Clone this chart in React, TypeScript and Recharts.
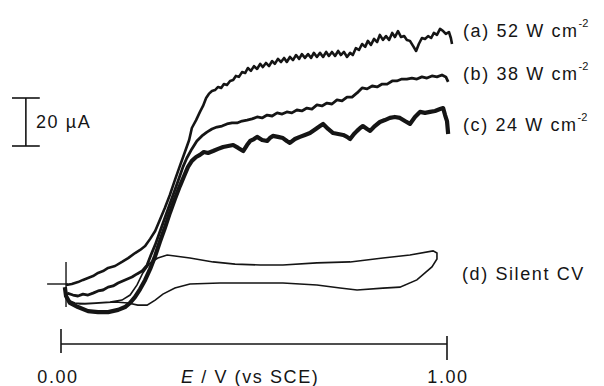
import { LineChart, Line, XAxis, YAxis, ReferenceLine, Customized } from "recharts";

// potential E / V vs SCE, current I / µA
const curveA: [number, number][] = [
  [0.013, -0.4], [0.028, 0], [0.044, 0.8], [0.057, 1.7], [0.07, 2.5], [0.083, 3.3], [0.096, 4.6],
  [0.109, 5.4], [0.122, 6.7], [0.14, 7.5], [0.158, 9.2], [0.174, 10.8], [0.192, 12.9], [0.205, 14.2],
  [0.218, 15.8], [0.231, 18.8], [0.244, 22.1], [0.256, 26.7], [0.269, 31.7], [0.282, 37.1],
  [0.295, 43.3], [0.308, 49.2], [0.321, 55.0], [0.332, 60.0], [0.339, 65.0], [0.35, 68.3],
  [0.36, 71.7], [0.368, 74.2], [0.376, 77.5], [0.383, 79.2], [0.391, 80.4], [0.399, 80.8],
  [0.407, 82.1], [0.415, 81.7], [0.422, 83.3], [0.43, 82.9], [0.438, 84.6], [0.446, 85.0],
  [0.453, 86.7], [0.461, 86.3], [0.469, 88.3], [0.477, 87.9], [0.484, 90.0], [0.492, 88.8],
  [0.5, 90.8], [0.508, 89.6], [0.516, 91.7], [0.523, 90.4], [0.531, 92.1], [0.539, 90.8],
  [0.547, 92.9], [0.554, 91.7], [0.562, 93.8], [0.57, 92.5], [0.578, 94.2], [0.585, 92.5],
  [0.593, 94.6], [0.601, 93.3], [0.609, 95.4], [0.617, 93.8], [0.624, 95.8], [0.632, 94.2],
  [0.64, 95.8], [0.648, 94.2], [0.655, 96.3], [0.663, 94.6], [0.671, 96.3], [0.679, 94.6],
  [0.687, 96.7], [0.694, 95.0], [0.702, 96.7], [0.71, 95.0], [0.718, 97.1], [0.725, 95.4],
  [0.733, 96.7], [0.741, 94.6], [0.749, 96.3], [0.756, 95.4], [0.764, 98.3], [0.772, 97.5],
  [0.78, 100.0], [0.788, 98.8], [0.795, 101.3], [0.803, 99.6], [0.811, 102.1], [0.819, 100.8],
  [0.826, 103.8], [0.834, 101.7], [0.842, 103.3], [0.85, 101.7], [0.858, 104.6], [0.865, 102.9],
  [0.873, 105.4], [0.881, 102.9], [0.889, 103.3], [0.896, 101.7], [0.904, 101.3], [0.912, 99.2],
  [0.92, 97.1], [0.927, 100.0], [0.935, 102.5], [0.943, 102.1], [0.951, 103.3], [0.959, 102.5],
  [0.966, 104.6], [0.974, 103.8], [0.982, 106.3], [0.99, 105.4], [0.997, 104.2], [1.005, 105.0],
  [1.01, 102.5], [1.013, 100.0],
];

const curveB: [number, number][] = [
  [0.016, -3.8], [0.031, -4.6], [0.044, -5.0], [0.057, -4.2], [0.07, -4.6], [0.083, -3.8],
  [0.096, -2.9], [0.109, -2.5], [0.122, -1.3], [0.135, -0.8], [0.148, 0.4], [0.166, 1.7],
  [0.184, 2.9], [0.197, 4.2], [0.21, 5.4], [0.223, 7.9], [0.233, 12.1], [0.244, 16.3],
  [0.256, 21.7], [0.269, 27.5], [0.282, 33.3], [0.295, 39.2], [0.306, 44.2], [0.316, 48.8],
  [0.326, 52.5], [0.339, 56.3], [0.352, 59.6], [0.365, 61.7], [0.378, 63.3], [0.391, 64.6],
  [0.404, 65.4], [0.417, 65.8], [0.43, 66.7], [0.443, 67.1], [0.456, 67.1], [0.469, 67.9],
  [0.482, 68.3], [0.495, 68.8], [0.508, 69.6], [0.521, 69.2], [0.534, 70.4], [0.547, 70.0],
  [0.56, 71.3], [0.573, 70.8], [0.585, 71.7], [0.598, 71.3], [0.611, 72.5], [0.624, 72.1],
  [0.637, 73.3], [0.65, 72.9], [0.663, 74.6], [0.676, 74.2], [0.689, 75.4], [0.702, 75.0],
  [0.715, 76.7], [0.728, 76.3], [0.741, 77.9], [0.754, 77.9], [0.767, 79.6], [0.78, 81.7],
  [0.793, 81.3], [0.806, 82.5], [0.819, 82.1], [0.832, 83.3], [0.845, 83.3], [0.858, 84.6],
  [0.87, 84.6], [0.883, 85.4], [0.896, 85.4], [0.909, 85.8], [0.922, 85.4], [0.935, 86.3],
  [0.948, 85.8], [0.961, 86.7], [0.974, 86.3], [0.987, 87.1], [0.997, 86.3], [1.003, 84.2],
];

const curveC: [number, number][] = [
  [0.01, -1.3], [0.013, -5.0], [0.023, -7.9], [0.044, -9.6], [0.07, -11.3], [0.096, -11.7],
  [0.122, -11.7], [0.148, -10.8], [0.166, -9.6], [0.179, -7.9], [0.192, -5.4], [0.205, -2.1],
  [0.218, 1.7], [0.231, 6.3], [0.244, 11.7], [0.256, 17.5], [0.269, 23.3], [0.282, 29.6],
  [0.295, 35.4], [0.308, 40.8], [0.319, 45.0], [0.329, 48.8], [0.339, 51.3], [0.35, 52.9],
  [0.36, 53.8], [0.37, 55.0], [0.381, 54.6], [0.394, 55.4], [0.407, 56.3], [0.42, 57.1],
  [0.433, 57.5], [0.446, 57.9], [0.459, 56.7], [0.472, 55.4], [0.482, 57.9], [0.49, 59.6],
  [0.5, 60.4], [0.508, 61.3], [0.521, 60.0], [0.534, 59.6], [0.541, 60.8], [0.549, 61.7],
  [0.562, 61.3], [0.575, 60.8], [0.585, 59.6], [0.593, 58.8], [0.606, 60.4], [0.619, 61.3],
  [0.632, 62.1], [0.645, 62.9], [0.66, 64.6], [0.671, 65.8], [0.679, 66.7], [0.692, 64.6],
  [0.705, 62.9], [0.718, 62.5], [0.731, 62.1], [0.741, 61.3], [0.749, 60.4], [0.759, 62.5],
  [0.767, 63.8], [0.775, 65.0], [0.782, 65.8], [0.793, 64.6], [0.801, 63.8], [0.813, 65.8],
  [0.826, 67.5], [0.839, 68.3], [0.852, 69.2], [0.865, 69.6], [0.878, 69.2], [0.891, 67.9],
  [0.904, 66.7], [0.917, 69.6], [0.93, 71.7], [0.943, 71.3], [0.956, 71.7], [0.969, 72.1],
  [0.982, 72.9], [0.99, 73.3], [0.995, 70.4], [1.0, 67.9], [1.003, 62.5],
];

// silent CV: forward sweep then reverse sweep (closed loop)
const silentCV: [number, number][] = [
  [0.013, -5.4], [0.023, -7.5], [0.049, -8.3], [0.088, -7.9], [0.127, -7.5], [0.158, -6.7],
  [0.179, -4.6], [0.197, -0.4], [0.212, 4.6], [0.231, 8.8], [0.251, 10.8], [0.275, 12.1],
  [0.295, 11.7], [0.334, 10.8], [0.394, 9.2], [0.451, 8.3], [0.516, 7.9], [0.575, 7.9],
  [0.663, 8.8], [0.749, 9.2], [0.834, 10.8], [0.904, 12.1], [0.964, 13.8], [0.974, 12.9],
  [0.974, 10.4], [0.961, 7.1], [0.943, 4.6], [0.922, 1.7], [0.878, -1.3], [0.834, -1.7],
  [0.767, -2.5], [0.723, -1.7], [0.663, -0.4], [0.575, 0.4], [0.49, 0.4], [0.412, 0.4],
  [0.334, 0], [0.295, -1.7], [0.264, -4.2], [0.244, -6.7], [0.223, -8.8], [0.199, -8.8],
  [0.174, -7.9], [0.14, -7.5], [0.101, -7.9], [0.062, -8.3], [0.036, -7.9], [0.018, -6.7],
];

const seriesLabels = ["(a) 52 W cm", "(b) 38 W cm", "(c) 24 W cm"];
const cvLabel = "(d)  Silent CV";
const xTickLabels = ["0.00", "1.00"];
const scaleLabel = "20 \u00b5A";

const toPts = (arr: [number, number][]) => arr.map(([E, I]) => ({ E, I }));

const ink = "#151515";
const font = { fontFamily: "'Liberation Sans', Arial, sans-serif", fontSize: 18, letterSpacing: 1.6, fill: ink };

function Labels() {
  const ys = [37, 80, 131];
  return (
    <g style={font as any}>
      {seriesLabels.map((t, i) => (
        <text key={t} x={463} y={ys[i]}>
          {t}
          <tspan dy={-10} fontSize={11} letterSpacing={0}>-2</tspan>
        </text>
      ))}
      <text x={462} y={280}>{cvLabel}</text>
      <text x={36} y={128}>{scaleLabel}</text>
      <text x={58} y={383} textAnchor="middle">{xTickLabels[0]}</text>
      <text x={448} y={383} textAnchor="middle">{xTickLabels[1]}</text>
      <text x={181} y={383}>
        <tspan fontStyle="italic">E</tspan> / V (vs SCE)
      </text>
    </g>
  );
}

export default function App() {
  return (
    <div style={{ position: "absolute", left: 0, top: 0, width: 604, height: 386, background: "#fff" }}>
      <LineChart width={604} height={386} margin={{ top: 20, right: 118.4, bottom: 18, left: 3.1 }}>
        <XAxis type="number" dataKey="E" domain={[-0.15, 1.1]} hide />
        <YAxis type="number" dataKey="I" domain={[-35, 110]} hide />
        {/* x scale bar with end ticks */}
        <ReferenceLine segment={[{ x: 0, y: -25 }, { x: 1, y: -25 }]} stroke={ink} strokeWidth={1.6} ifOverflow="visible" />
        <ReferenceLine segment={[{ x: 0, y: -18.8 }, { x: 0, y: -28.8 }]} stroke={ink} strokeWidth={1.6} ifOverflow="visible" />
        <ReferenceLine segment={[{ x: 1, y: -21.7 }, { x: 1, y: -31.7 }]} stroke={ink} strokeWidth={1.6} ifOverflow="visible" />
        {/* 20 µA current scale bar */}
        <ReferenceLine segment={[{ x: -0.091, y: 57.5 }, { x: -0.091, y: 77.5 }]} stroke={ink} strokeWidth={1.6} ifOverflow="visible" />
        <ReferenceLine segment={[{ x: -0.127, y: 77.5 }, { x: -0.055, y: 77.5 }]} stroke={ink} strokeWidth={1.6} ifOverflow="visible" />
        <ReferenceLine segment={[{ x: -0.127, y: 57.5 }, { x: -0.055, y: 57.5 }]} stroke={ink} strokeWidth={1.6} ifOverflow="visible" />
        {/* zero-current origin mark */}
        <ReferenceLine segment={[{ x: -0.036, y: 0 }, { x: 0.018, y: 0 }]} stroke={ink} strokeWidth={1.4} ifOverflow="visible" />
        <ReferenceLine segment={[{ x: 0.013, y: 9.2 }, { x: 0.013, y: -9.6 }]} stroke={ink} strokeWidth={1.4} ifOverflow="visible" />
        <Line data={toPts(silentCV)} dataKey="I" type="linear" stroke={ink} strokeWidth={1.6} dot={false} isAnimationActive={false} />
        <Line data={toPts(curveC)} dataKey="I" type="linear" stroke={ink} strokeWidth={4.2} dot={false} isAnimationActive={false} strokeLinejoin="round" />
        <Line data={toPts(curveB)} dataKey="I" type="linear" stroke={ink} strokeWidth={2.8} dot={false} isAnimationActive={false} strokeLinejoin="round" />
        <Line data={toPts(curveA)} dataKey="I" type="linear" stroke={ink} strokeWidth={2.6} dot={false} isAnimationActive={false} strokeLinejoin="round" />
        <Customized component={Labels} />
      </LineChart>
    </div>
  );
}
